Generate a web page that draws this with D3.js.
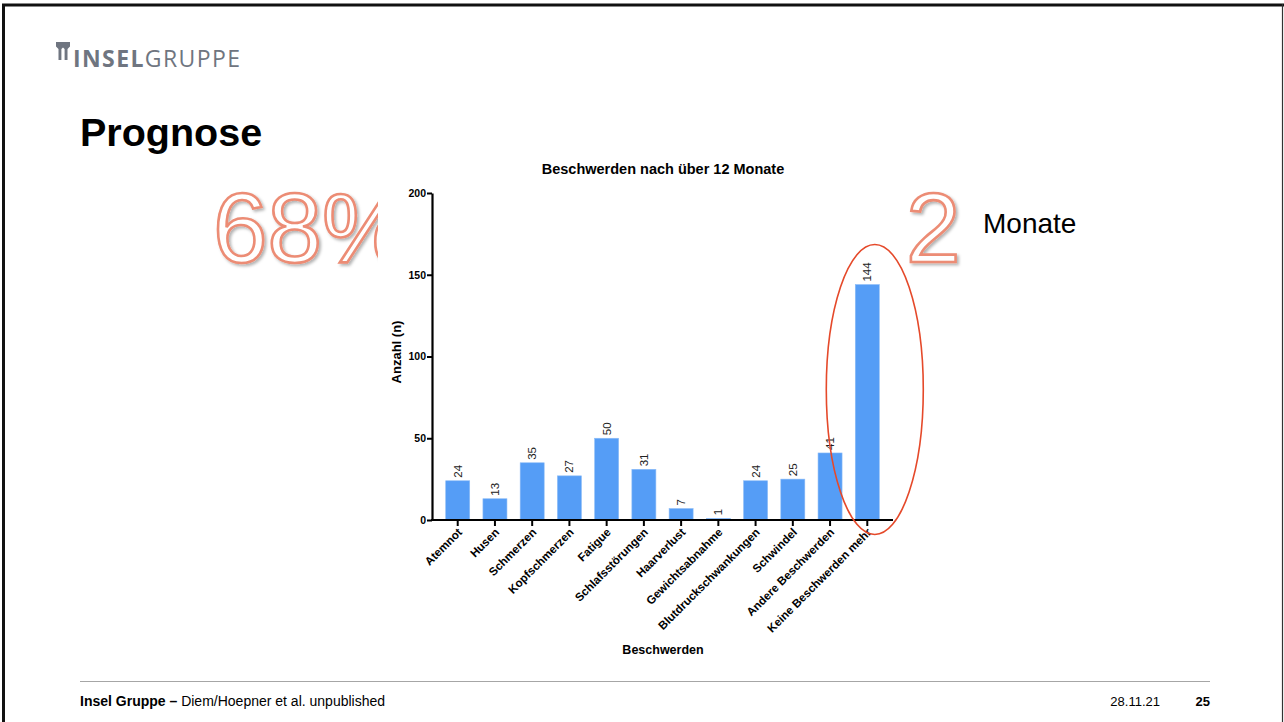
<!DOCTYPE html>
<html>
<head>
<meta charset="utf-8">
<script src="https://cdn.jsdelivr.net/npm/d3@7"></script>
<style>
  html, body { margin: 0; padding: 0; background: #fff; }
  svg { display: block; font-family: "Liberation Sans", Arial, Helvetica, sans-serif; }
</style>
</head>
<body>
<svg id="slide" width="1284" height="722"></svg>
<script>
// Beschwerden nach über 12 Monaten (Anzahl Patienten)
const categories = ["Atemnot", "Husen", "Schmerzen", "Kopfschmerzen", "Fatigue", "Schlafsstörungen",
  "Haarverlust", "Gewichtsabnahme", "Blutdruckschwankungen", "Schwindel", "Andere Beschwerden",
  "Keine Beschwerden mehr"];
const counts = [24, 13, 35, 27, 50, 31, 7, 1, 24, 25, 41, 144];
const yTicks = [0, 50, 100, 150, 200];

const FONT = "'Liberation Sans', Arial, Helvetica, sans-serif";
const svg = d3.select("#slide");

// slide frame
svg.append("rect").attr("x", 0).attr("y", 0).attr("width", 1284).attr("height", 722).attr("fill", "#fff");
svg.append("line").attr("x1", 2).attr("x2", 1284).attr("y1", 5).attr("y2", 5).attr("stroke", "#111").attr("stroke-width", 3);
svg.append("line").attr("x1", 3.5).attr("x2", 3.5).attr("y1", 4).attr("y2", 722).attr("stroke", "#111").attr("stroke-width", 3);
svg.append("line").attr("x1", 1282.5).attr("x2", 1282.5).attr("y1", 4).attr("y2", 722).attr("stroke", "#333").attr("stroke-width", 1.2);

const defs = svg.append("defs");
const shadow = defs.append("filter").attr("id", "soft").attr("x", "-10%").attr("y", "-10%").attr("width", "130%").attr("height", "130%");
shadow.append("feDropShadow").attr("dx", 2).attr("dy", 2).attr("stdDeviation", 1.5)
  .attr("flood-color", "#000").attr("flood-opacity", 0.3);

// logo
const logo = svg.append("g").attr("fill", "#6f7580");
logo.append("path").attr("d", "M56,42 L70,42 L70,46.5 L67.5,49 L67.5,60 L64.6,60 L64.6,49 L63,47.5 L61.4,49 L61.4,60 L58.5,60 L58.5,49 L56,46.5 Z");
const logoText = logo.append("text").attr("x", 73).attr("y", 67)
  .style("font-family", "'Open Sans', sans-serif").attr("font-size", 23).attr("letter-spacing", 1.4);
logoText.append("tspan").attr("font-weight", 700).text("INSEL");
logoText.append("tspan").attr("font-weight", 400).text("GRUPPE");

// heading
svg.append("text").attr("x", 80).attr("y", 146).attr("font-size", 39.5).attr("font-weight", 700)
  .attr("fill", "#000").text("Prognose");

// big outlined figures
const bigStyle = sel => sel.attr("font-size", 98).attr("fill", "#fff").attr("stroke", "#ec8c74")
  .attr("stroke-width", 2.6).attr("filter", "url(#soft)");
svg.append("text").attr("x", 213).attr("y", 262).text("68%").call(bigStyle);
svg.append("text").attr("x", 906).attr("y", 262).text("2").call(bigStyle);
svg.append("text").attr("x", 983).attr("y", 233).attr("font-size", 28).attr("fill", "#000").text("Monate");

// chart panel
svg.append("rect").attr("x", 378).attr("y", 155).attr("width", 524).attr("height", 508).attr("fill", "#fff");

const x = d3.scaleBand().domain(categories).range([439, 886]).paddingInner(0.355).paddingOuter(0.18);
const y = d3.scaleLinear().domain([0, 200]).range([520, 193]);
const axisLeftX = 432, axisRightX = 893;

const chart = svg.append("g");

chart.append("text").attr("x", 663).attr("y", 174).attr("text-anchor", "middle")
  .attr("font-size", 14.5).attr("font-weight", 700).text("Beschwerden nach über 12 Monate");

// bars
chart.selectAll("rect.bar").data(counts).join("rect").attr("class", "bar")
  .attr("x", (d, i) => x(categories[i]))
  .attr("width", x.bandwidth())
  .attr("y", d => y(d))
  .attr("height", d => y(0) - y(d))
  .attr("fill", "#559df6")
  .attr("stroke", "#8cbcf7").attr("stroke-width", 0.6);

// value labels
chart.selectAll("text.val").data(counts).join("text").attr("class", "val")
  .attr("transform", (d, i) => `translate(${x(categories[i]) + x.bandwidth() / 2 + 4},${y(d) - 3}) rotate(-90)`)
  .attr("font-size", 11.5).attr("fill", "#222").text(d => d);

// y axis
const yAxis = chart.append("g").attr("transform", `translate(${axisLeftX},0)`)
  .call(d3.axisLeft(y).tickValues(yTicks).tickSize(5).tickSizeOuter(0));
yAxis.select(".domain").attr("stroke", "#000").attr("stroke-width", 2.2);
yAxis.selectAll(".tick line").attr("stroke", "#000").attr("stroke-width", 2);
yAxis.selectAll(".tick text").attr("font-size", 10.5).attr("font-weight", 700).attr("fill", "#000")
  .attr("font-family", FONT).attr("x", -6);

// x axis
const xAxis = chart.append("g").attr("transform", `translate(0,${y(0)})`)
  .call(d3.axisBottom(x).tickSize(6).tickSizeOuter(0));
xAxis.select(".domain").attr("d", `M${axisLeftX - 1},0H${axisRightX}`).attr("stroke", "#000").attr("stroke-width", 2.2);
xAxis.selectAll(".tick line").attr("stroke", "#000").attr("stroke-width", 2);
xAxis.selectAll(".tick text")
  .attr("font-size", 11.6).attr("font-weight", 700).attr("fill", "#000")
  .attr("font-family", FONT)
  .attr("text-anchor", "end").attr("dy", null).attr("y", 0)
  .attr("transform", "translate(5,13) rotate(-45)");

// axis titles
chart.append("text").attr("transform", "translate(401,352) rotate(-90)").attr("text-anchor", "middle")
  .attr("font-size", 13).attr("font-weight", 700).text("Anzahl (n)");
chart.append("text").attr("x", 663).attr("y", 654).attr("text-anchor", "middle")
  .attr("font-size", 12.5).attr("font-weight", 700).text("Beschwerden");

// highlight around the last category
const last = categories[categories.length - 1];
svg.append("ellipse").attr("cx", x(last) + x.bandwidth() / 2 + 7.5).attr("cy", 389.5)
  .attr("rx", 48.5).attr("ry", 145).attr("fill", "none").attr("stroke", "#e5492a").attr("stroke-width", 1.6);

// footer
svg.append("line").attr("x1", 80).attr("x2", 1210).attr("y1", 681.5).attr("y2", 681.5)
  .attr("stroke", "#a6a6a6").attr("stroke-width", 1.2);
const foot = svg.append("text").attr("x", 80).attr("y", 706).attr("font-size", 14).attr("fill", "#000");
foot.append("tspan").attr("font-weight", 700).text("Insel Gruppe – ");
foot.append("tspan").text("Diem/Hoepner et al. unpublished");
svg.append("text").attr("x", 1160).attr("y", 706).attr("text-anchor", "end").attr("font-size", 13).text("28.11.21");
svg.append("text").attr("x", 1210).attr("y", 706).attr("text-anchor", "end").attr("font-size", 13)
  .attr("font-weight", 700).text("25");
</script>
</body>
</html>
